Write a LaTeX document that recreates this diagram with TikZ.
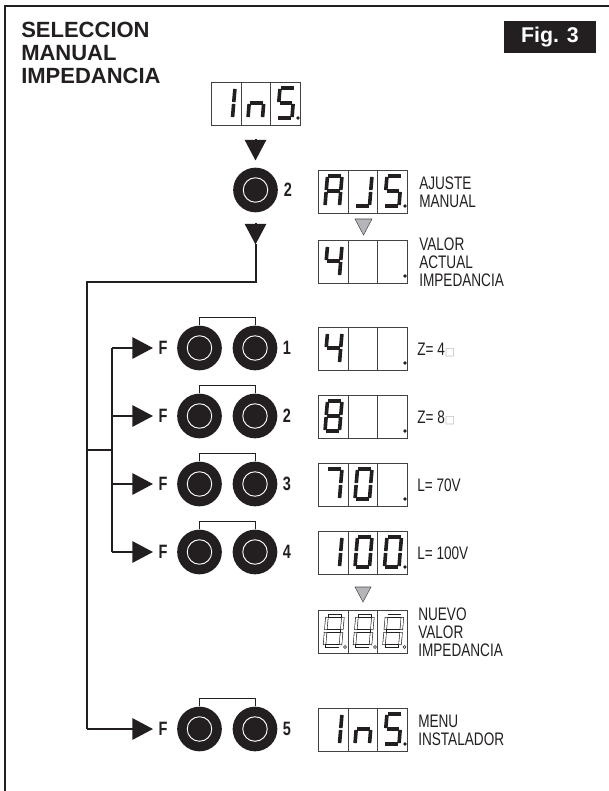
\documentclass[tikz,border=0pt]{standalone}
\usepackage{fontspec}
\usepackage{xcolor}
\usetikzlibrary{arrows.meta}
\setmainfont{Liberation Sans}
\newfontfamily\narrowfont[FakeStretch=0.75]{Liberation Sans}
\newfontfamily\boxfont{DejaVu Sans}

\definecolor{inkblack}{HTML}{231F20}
\definecolor{markgray}{HTML}{B3B5B8}

% segment lists of the digits
\def\dOne{TR/MR,MR/BR}
\def\dEn{ML/MR,ML/BL,MR/BR}
\def\dEs{TL/TR,TL/ML,ML/MR,MR/BR,BL/BR}
\def\dAy{TL/TR,TL/ML,ML/BL,TR/MR,MR/BR,ML/MR}
\def\dJay{TR/MR,MR/BR,BL/BR}
\def\dFour{TL/ML,ML/MR,TR/MR,MR/BR}
\def\dEight{TL/TR,TL/ML,ML/BL,TR/MR,MR/BR,ML/MR,BL/BR}
\def\dSeven{TL/TR,TR/MR,MR/BR}
\def\dZero{TL/TR,TL/ML,ML/BL,TR/MR,MR/BR,BL/BR}
\def\dNone{}

\tikzset{
    segment/.style={inkblack, line width=2.7pt, shorten >=.7pt, shorten <=.7pt},
    cellline/.style={inkblack!85, line width=.6pt},
    tiparrow/.style={-{Triangle[length=15.5pt, width=16pt]}, inkblack, line width=1.5pt},
    greymark/.style={fill=markgray, draw=inkblack!80, line width=.4pt},
    button/.style={circle, fill=inkblack, minimum size=33.5pt, inner sep=0pt},
    ring/.style={draw=white, line width=.7pt},
    bracket/.style={inkblack, line width=.6pt},
    keylabel/.style={font=\narrowfont\bfseries\fontsize{14.5}{14.5}\selectfont, inkblack, inner sep=0pt},
    notelabel/.style={font=\narrowfont\fontsize{13.6}{13.6}\selectfont, inkblack, inner sep=0pt, anchor=west, align=left},
}

% one digit, #1 = left, #2 = top of the cell, #3 = segment list
\newcommand{\cellDigit}[3]{%
    \ifx#3\dNone\else
    \begin{scope}[shift={(#1,#2)}]
        \coordinate (TL) at (9.5,6);
        \coordinate (TR) at (24,6);
        \coordinate (ML) at (8.2,21);
        \coordinate (MR) at (22.7,21);
        \coordinate (BL) at (7,36);
        \coordinate (BR) at (21.5,36);
        \foreach \a/\b in #3 {
            \draw[segment] (\a) -- (\b);
        }
    \end{scope}
    \fi
}

% display with three cells, #1 = name, #2 = left, #3 = top
\newcommand{\threeCells}[3]{%
    \node[minimum width=67pt, minimum height=32.2pt, inner sep=0pt, draw=inkblack!85, line width=.6pt] (#1) at (#2+44.7,#3+21.5) {};
    \draw[cellline] (#2+30,#3) -- (#2+30,#3+43);
    \draw[cellline] (#2+59.5,#3) -- (#2+59.5,#3+43);
}

% #1 = name, #2 = left, #3 = top, #4-#6 = digits
\newcommand{\display}[6]{%
    \threeCells{#1}{#2}{#3}
    \cellDigit{#2}{#3}{#4}
    \cellDigit{#2+30}{#3}{#5}
    \cellDigit{#2+59.5}{#3}{#6}
    \fill[inkblack] (#2+87,#3+36) circle (1.4pt);
}

% #1 = name, #2 = x, #3 = y
\newcommand{\pushButton}[3]{%
    \node[button] (#1) at (#2,#3) {};
    \draw[ring] (#1) circle (9.2pt);
}

\begin{document}
\begin{tikzpicture}[x=.75pt, y=-.75pt]
    \useasboundingbox (0,0) rectangle (609,791);
    \draw[inkblack, line width=1.5pt] (5,791) -- (5,6) -- (609,6);

    % title
    \node[font=\bfseries\fontsize{16.5}{17.2}\selectfont, inkblack, inner sep=0pt, anchor=north west, align=left] (title) at (21,22) {SELECCION\\MANUAL\\IMPEDANCIA};
    \node[fill=inkblack, text=white, font=\bfseries\fontsize{16}{16}\selectfont, minimum width=69pt, minimum height=24pt, inner sep=0pt] (figbox) at (550,37) {Fig. 3};

    % top of the sequence
    \display{dispStart}{211}{82}{\dOne}{\dEn}{\dEs}
    \coordinate (topA) at (255.5,139);
    \coordinate (topB) at (255.5,160.5);
    \draw[tiparrow] (topA) -- (topB);
    \pushButton{btnTop}{255.5}{190}
    \node[keylabel] (numTop) at (288,190) {2};
    \coordinate (topC) at (255.5,223);
    \coordinate (topD) at (255.5,244.5);
    \draw[tiparrow] (topC) -- (topD);

    \display{dispAjs}{318}{170}{\dAy}{\dJay}{\dEs}
    \node[notelabel] (noteAjs) at (419,192.5) {AJUSTE\\MANUAL};
    \draw[greymark] (355,219) -- (372,219) -- (363.5,235) -- cycle;
    \display{dispNow}{318}{240}{\dFour}{\dNone}{\dNone}
    \node[notelabel] (noteNow) at (419,262.5) {VALOR\\ACTUAL\\IMPEDANCIA};

    % lines
    \coordinate (bendA) at (255.5,282);
    \coordinate (bendB) at (87,282);
    \coordinate (bendC) at (87,729);
    \coordinate (tipLast) at (153,729);
    \draw[inkblack, line width=1.5pt] (topD) -- (bendA) -- (bendB) -- (bendC);
    \draw[tiparrow] (bendC) -- (tipLast);
    \coordinate (forkA) at (87,450);
    \coordinate (forkB) at (112,450);
    \draw[inkblack, line width=1.5pt] (forkA) -- (forkB);

    % F + number rows
    \foreach \n/\y in {1/348,2/416,3/484,4/552,5/729} {
        \node[keylabel] (keyF\n) at (163,\y) {F};
        \pushButton{btnL\n}{199.5}{\y}
        \pushButton{btnR\n}{255}{\y}
        \node[keylabel] (num\n) at (287,\y) {\n};
        \coordinate (brA\n) at (199.5,\y-31);
        \coordinate (brB\n) at (255,\y-31);
        \draw[bracket] (btnL\n.north) -- (brA\n) -- (brB\n) -- (btnR\n.north);
    }
    \foreach \n/\y in {1/348,2/416,3/484,4/552} {
        \coordinate (tr\n) at (112,\y);
        \coordinate (tip\n) at (153,\y);
        \draw[tiparrow] (tr\n) -- (tip\n);
    }
    \draw[inkblack, line width=1.5pt] (tr1) -- (tr4);

    \display{dispOne}{318}{327}{\dFour}{\dNone}{\dNone}
    \node[notelabel] (noteOne) at (417,350) {Z= 4{\boxfont\fontsize{8}{8}\selectfont\textcolor{markgray}{□}}};
    \display{dispTwo}{318}{395}{\dEight}{\dNone}{\dNone}
    \node[notelabel] (noteTwo) at (417,418) {Z= 8{\boxfont\fontsize{8}{8}\selectfont\textcolor{markgray}{□}}};
    \display{dispThree}{318}{463}{\dSeven}{\dZero}{\dNone}
    \node[notelabel] (noteThree) at (417,485) {L= 70V};
    \display{dispFour}{318}{531}{\dOne}{\dZero}{\dZero}
    \node[notelabel] (noteFour) at (417,553) {L= 100V};
    \draw[greymark] (355,587) -- (371,587) -- (363,602) -- cycle;

    % hollow digits
    \threeCells{dispNew}{318}{610}
    \foreach \cx in {318,348,377.5} {
        \begin{scope}[shift={(\cx,610)}]
            \coordinate (TL) at (9,6);
            \coordinate (TR) at (25,6);
            \coordinate (ML) at (7.7,21);
            \coordinate (MR) at (23.7,21);
            \coordinate (BL) at (6.4,36);
            \coordinate (BR) at (22.4,36);
            \foreach \a/\b in \dEight {
                \draw[inkblack, line width=2.4pt, shorten >=.8pt, shorten <=.8pt] (\a) -- (\b);
                \draw[white, line width=1.5pt, shorten >=1.2pt, shorten <=1.2pt] (\a) -- (\b);
            }
            \draw[inkblack, fill=white, line width=.4pt] (27,37) circle (1.2pt);
        \end{scope}
    }
    \node[notelabel] (noteNew) at (418,632.5) {NUEVO\\VALOR\\IMPEDANCIA};

    \display{dispEnd}{318}{708}{\dOne}{\dEn}{\dEs}
    \node[notelabel] (noteEnd) at (418,730) {MENU\\INSTALADOR};
\end{tikzpicture}
\end{document}
